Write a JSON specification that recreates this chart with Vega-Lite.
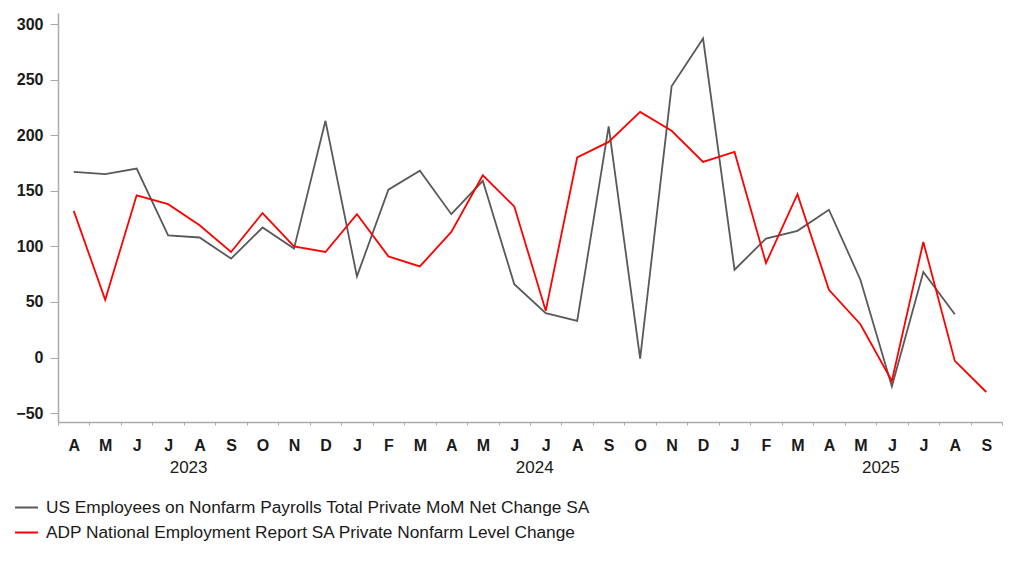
{
  "$schema": "https://vega.github.io/schema/vega-lite/v6.json",
  "autosize": "none",
  "width": 944,
  "height": 409,
  "padding": {"left": 58, "top": 13, "right": 20, "bottom": 142},
  "background": "white",
  "config": {
    "font": "Liberation Sans",
    "view": {"stroke": null},
    "axis": {"grid": false, "labelColor": "#1a1a1a", "domainColor": "#aaaaaa", "tickColor": "#aaaaaa", "domainWidth": 1.5}
  },
  "datasets": {
    "rows": [
      {"date": "2023-04", "series": "US Employees on Nonfarm Payrolls Total Private MoM Net Change SA", "value": 167},
      {"date": "2023-05", "series": "US Employees on Nonfarm Payrolls Total Private MoM Net Change SA", "value": 165},
      {"date": "2023-06", "series": "US Employees on Nonfarm Payrolls Total Private MoM Net Change SA", "value": 170},
      {"date": "2023-07", "series": "US Employees on Nonfarm Payrolls Total Private MoM Net Change SA", "value": 110},
      {"date": "2023-08", "series": "US Employees on Nonfarm Payrolls Total Private MoM Net Change SA", "value": 108},
      {"date": "2023-09", "series": "US Employees on Nonfarm Payrolls Total Private MoM Net Change SA", "value": 89},
      {"date": "2023-10", "series": "US Employees on Nonfarm Payrolls Total Private MoM Net Change SA", "value": 117},
      {"date": "2023-11", "series": "US Employees on Nonfarm Payrolls Total Private MoM Net Change SA", "value": 98},
      {"date": "2023-12", "series": "US Employees on Nonfarm Payrolls Total Private MoM Net Change SA", "value": 213},
      {"date": "2024-01", "series": "US Employees on Nonfarm Payrolls Total Private MoM Net Change SA", "value": 73},
      {"date": "2024-02", "series": "US Employees on Nonfarm Payrolls Total Private MoM Net Change SA", "value": 151},
      {"date": "2024-03", "series": "US Employees on Nonfarm Payrolls Total Private MoM Net Change SA", "value": 168},
      {"date": "2024-04", "series": "US Employees on Nonfarm Payrolls Total Private MoM Net Change SA", "value": 129},
      {"date": "2024-05", "series": "US Employees on Nonfarm Payrolls Total Private MoM Net Change SA", "value": 159},
      {"date": "2024-06", "series": "US Employees on Nonfarm Payrolls Total Private MoM Net Change SA", "value": 66},
      {"date": "2024-07", "series": "US Employees on Nonfarm Payrolls Total Private MoM Net Change SA", "value": 40},
      {"date": "2024-08", "series": "US Employees on Nonfarm Payrolls Total Private MoM Net Change SA", "value": 33},
      {"date": "2024-09", "series": "US Employees on Nonfarm Payrolls Total Private MoM Net Change SA", "value": 208},
      {"date": "2024-10", "series": "US Employees on Nonfarm Payrolls Total Private MoM Net Change SA", "value": -1},
      {"date": "2024-11", "series": "US Employees on Nonfarm Payrolls Total Private MoM Net Change SA", "value": 244},
      {"date": "2024-12", "series": "US Employees on Nonfarm Payrolls Total Private MoM Net Change SA", "value": 287},
      {"date": "2025-01", "series": "US Employees on Nonfarm Payrolls Total Private MoM Net Change SA", "value": 79},
      {"date": "2025-02", "series": "US Employees on Nonfarm Payrolls Total Private MoM Net Change SA", "value": 107},
      {"date": "2025-03", "series": "US Employees on Nonfarm Payrolls Total Private MoM Net Change SA", "value": 114},
      {"date": "2025-04", "series": "US Employees on Nonfarm Payrolls Total Private MoM Net Change SA", "value": 133},
      {"date": "2025-05", "series": "US Employees on Nonfarm Payrolls Total Private MoM Net Change SA", "value": 70},
      {"date": "2025-06", "series": "US Employees on Nonfarm Payrolls Total Private MoM Net Change SA", "value": -26},
      {"date": "2025-07", "series": "US Employees on Nonfarm Payrolls Total Private MoM Net Change SA", "value": 77},
      {"date": "2025-08", "series": "US Employees on Nonfarm Payrolls Total Private MoM Net Change SA", "value": 39},
      {"date": "2023-04", "series": "ADP National Employment Report SA Private Nonfarm Level Change", "value": 132},
      {"date": "2023-05", "series": "ADP National Employment Report SA Private Nonfarm Level Change", "value": 52},
      {"date": "2023-06", "series": "ADP National Employment Report SA Private Nonfarm Level Change", "value": 146},
      {"date": "2023-07", "series": "ADP National Employment Report SA Private Nonfarm Level Change", "value": 138},
      {"date": "2023-08", "series": "ADP National Employment Report SA Private Nonfarm Level Change", "value": 119},
      {"date": "2023-09", "series": "ADP National Employment Report SA Private Nonfarm Level Change", "value": 95},
      {"date": "2023-10", "series": "ADP National Employment Report SA Private Nonfarm Level Change", "value": 130},
      {"date": "2023-11", "series": "ADP National Employment Report SA Private Nonfarm Level Change", "value": 100},
      {"date": "2023-12", "series": "ADP National Employment Report SA Private Nonfarm Level Change", "value": 95},
      {"date": "2024-01", "series": "ADP National Employment Report SA Private Nonfarm Level Change", "value": 129},
      {"date": "2024-02", "series": "ADP National Employment Report SA Private Nonfarm Level Change", "value": 91},
      {"date": "2024-03", "series": "ADP National Employment Report SA Private Nonfarm Level Change", "value": 82},
      {"date": "2024-04", "series": "ADP National Employment Report SA Private Nonfarm Level Change", "value": 113},
      {"date": "2024-05", "series": "ADP National Employment Report SA Private Nonfarm Level Change", "value": 164},
      {"date": "2024-06", "series": "ADP National Employment Report SA Private Nonfarm Level Change", "value": 136},
      {"date": "2024-07", "series": "ADP National Employment Report SA Private Nonfarm Level Change", "value": 42},
      {"date": "2024-08", "series": "ADP National Employment Report SA Private Nonfarm Level Change", "value": 180},
      {"date": "2024-09", "series": "ADP National Employment Report SA Private Nonfarm Level Change", "value": 194},
      {"date": "2024-10", "series": "ADP National Employment Report SA Private Nonfarm Level Change", "value": 221},
      {"date": "2024-11", "series": "ADP National Employment Report SA Private Nonfarm Level Change", "value": 204},
      {"date": "2024-12", "series": "ADP National Employment Report SA Private Nonfarm Level Change", "value": 176},
      {"date": "2025-01", "series": "ADP National Employment Report SA Private Nonfarm Level Change", "value": 185},
      {"date": "2025-02", "series": "ADP National Employment Report SA Private Nonfarm Level Change", "value": 85},
      {"date": "2025-03", "series": "ADP National Employment Report SA Private Nonfarm Level Change", "value": 147},
      {"date": "2025-04", "series": "ADP National Employment Report SA Private Nonfarm Level Change", "value": 61},
      {"date": "2025-05", "series": "ADP National Employment Report SA Private Nonfarm Level Change", "value": 30},
      {"date": "2025-06", "series": "ADP National Employment Report SA Private Nonfarm Level Change", "value": -21},
      {"date": "2025-07", "series": "ADP National Employment Report SA Private Nonfarm Level Change", "value": 104},
      {"date": "2025-08", "series": "ADP National Employment Report SA Private Nonfarm Level Change", "value": -3},
      {"date": "2025-09", "series": "ADP National Employment Report SA Private Nonfarm Level Change", "value": -31}
    ]
  },
  "data": {"name": "rows"},
  "encoding": {
    "y": {
      "field": "value", "type": "quantitative",
      "scale": {"domain": [-58, 310], "nice": false, "zero": false},
      "axis": {"title": null, "values": [-50, 0, 50, 100, 150, 200, 250, 300], "tickSize": 8, "labelPadding": 7, "labelFontSize": 16, "labelFontWeight": "bold"}
    },
    "color": {
      "field": "series", "type": "nominal",
      "scale": {
        "domain": ["US Employees on Nonfarm Payrolls Total Private MoM Net Change SA", "ADP National Employment Report SA Private Nonfarm Level Change"],
        "range": ["#595959", "#ff0000"]
      },
      "legend": {
        "title": null, "orient": "none", "legendX": -44, "legendY": 482, "direction": "vertical",
        "symbolType": "stroke", "symbolSize": 529, "symbolStrokeWidth": 2,
        "labelFontSize": 17.3, "labelColor": "#1a1a1a", "labelLimit": 0, "labelOffset": 7, "rowPadding": 4
      }
    }
  },
  "layer": [
    {
      "transform": [{"filter": "datum.series == 'US Employees on Nonfarm Payrolls Total Private MoM Net Change SA'"}],
      "mark": {"type": "line", "strokeWidth": 1.8},
      "encoding": {
        "x": {
          "field": "date", "type": "ordinal",
          "scale": {"type": "band", "paddingInner": 0, "paddingOuter": 0, "domain": ["2023-04","2023-05","2023-06","2023-07","2023-08","2023-09","2023-10","2023-11","2023-12","2024-01","2024-02","2024-03","2024-04","2024-05","2024-06","2024-07","2024-08","2024-09","2024-10","2024-11","2024-12","2025-01","2025-02","2025-03","2025-04","2025-05","2025-06","2025-07","2025-08","2025-09"]},
          "axis": {
            "orient": "bottom", "title": null, "labelAngle": 0, "tickBand": "extent", "tickSize": 3,
            "labelPadding": 12, "labelFontSize": 16, "labelFontWeight": "bold",
            "labelExpr": "['J','F','M','A','M','J','J','A','S','O','N','D'][toNumber(substring(datum.value,5,7))-1]",
            "encode": {"ticks": {"update": {"y2": {"signal": "indexof(['2024-01','2025-01'], datum.value) >= 0 ? 7 : 3"}}}}
          }
        }
      }
    },
    {
      "transform": [{"filter": "datum.series == 'ADP National Employment Report SA Private Nonfarm Level Change'"}],
      "mark": {"type": "line", "strokeWidth": 1.8},
      "encoding": {
        "x": {
          "field": "date", "type": "ordinal",
          "axis": {
            "orient": "bottom", "title": null, "labelAngle": 0, "values": ["2023-08", "2024-07", "2025-06"],
            "ticks": false, "domain": false, "labelPadding": 37, "labelOffset": -11,
            "labelFontSize": 17, "labelExpr": "substring(datum.value, 0, 4)"
          }
        }
      }
    }
  ],
  "resolve": {"axis": {"x": "independent"}}
}
